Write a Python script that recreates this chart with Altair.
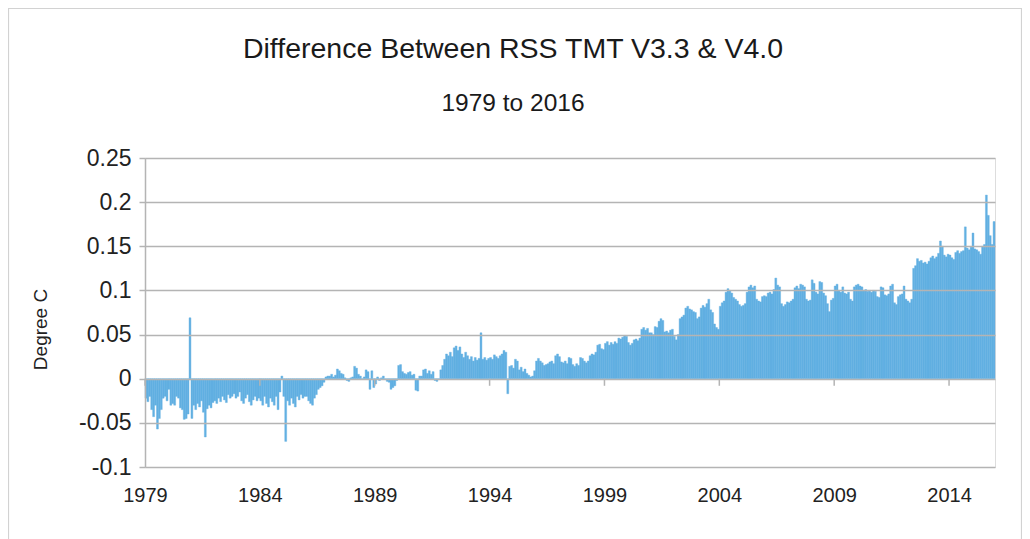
import altair as alt
import pandas as pd

# Monthly difference (degree C), RSS TMT V3.3 minus V4.0, Jan 1979 .. Dec 2015
v1979 = [-0.022, -0.026, -0.020, -0.035, -0.043, -0.030, -0.057, -0.045, -0.035, -0.022, -0.020, -0.025]
v1980 = [-0.012, -0.030, -0.028, -0.030, -0.020, -0.022, -0.033, -0.035, -0.046, -0.045, -0.040, 0.069]
v1981 = [-0.045, -0.030, -0.035, -0.028, -0.032, -0.025, -0.038, -0.066, -0.034, -0.030, -0.033, -0.027]
v1982 = [-0.025, -0.028, -0.022, -0.026, -0.020, -0.024, -0.027, -0.018, -0.022, -0.020, -0.017, -0.022]
v1983 = [-0.020, -0.015, -0.025, -0.028, -0.022, -0.018, -0.026, -0.030, -0.024, -0.020, -0.025, -0.022]
v1984 = [-0.025, -0.030, -0.020, -0.028, -0.032, -0.022, -0.026, -0.030, -0.020, -0.035, -0.015, 0.003]
v1985 = [-0.020, -0.071, -0.025, -0.030, -0.022, -0.028, -0.032, -0.020, -0.024, -0.018, -0.022, -0.020]
v1986 = [-0.020, -0.025, -0.028, -0.030, -0.022, -0.018, -0.012, -0.010, -0.008, -0.004, 0.002, 0.003]
v1987 = [0.003, 0.005, 0.002, 0.004, 0.011, 0.009, 0.006, 0.005, 0.001, -0.002, -0.003, 0.001]
v1988 = [0.002, 0.014, 0.012, 0.005, 0.003, 0.000, 0.002, 0.010, 0.008, -0.012, 0.009, -0.010]
v1989 = [-0.006, 0.002, -0.002, 0.001, 0.003, 0.000, -0.003, -0.004, -0.012, -0.010, -0.008, -0.002]
v1990 = [0.015, 0.016, 0.008, 0.006, 0.005, 0.007, 0.008, 0.004, 0.005, -0.013, -0.014, 0.003]
v1991 = [0.003, 0.010, 0.011, 0.006, 0.009, 0.005, 0.008, -0.002, -0.003, 0.000, 0.010, 0.015]
v1992 = [0.022, 0.028, 0.026, 0.030, 0.025, 0.035, 0.037, 0.032, 0.036, 0.028, 0.024, 0.030]
v1993 = [0.026, 0.022, 0.025, 0.020, 0.024, 0.021, 0.023, 0.052, 0.022, 0.024, 0.021, 0.023]
v1994 = [0.024, 0.022, 0.027, 0.025, 0.023, 0.026, 0.028, 0.032, 0.030, -0.017, 0.014, 0.015]
v1995 = [0.012, 0.022, 0.020, 0.010, 0.013, 0.008, 0.011, 0.006, 0.004, 0.002, 0.003, 0.009]
v1996 = [0.020, 0.023, 0.020, 0.018, 0.015, 0.016, 0.017, 0.019, 0.020, 0.017, 0.026, 0.028]
v1997 = [0.025, 0.019, 0.018, 0.020, 0.017, 0.024, 0.023, 0.016, 0.014, 0.017, 0.015, 0.024]
v1998 = [0.023, 0.020, 0.018, 0.020, 0.026, 0.028, 0.027, 0.030, 0.038, 0.039, 0.034, 0.033]
v1999 = [0.040, 0.042, 0.038, 0.041, 0.039, 0.042, 0.040, 0.046, 0.045, 0.047, 0.049, 0.048]
v2000 = [0.041, 0.038, 0.040, 0.044, 0.045, 0.043, 0.046, 0.056, 0.058, 0.055, 0.057, 0.052]
v2001 = [0.052, 0.050, 0.059, 0.058, 0.065, 0.068, 0.066, 0.053, 0.054, 0.052, 0.055, 0.056]
v2002 = [0.048, 0.044, 0.050, 0.068, 0.070, 0.072, 0.080, 0.082, 0.079, 0.078, 0.076, 0.075]
v2003 = [0.068, 0.070, 0.080, 0.083, 0.081, 0.085, 0.090, 0.078, 0.075, 0.062, 0.058, 0.056]
v2004 = [0.082, 0.086, 0.088, 0.098, 0.102, 0.100, 0.097, 0.092, 0.090, 0.088, 0.084, 0.082]
v2005 = [0.083, 0.085, 0.098, 0.104, 0.106, 0.103, 0.105, 0.090, 0.088, 0.087, 0.093, 0.094]
v2006 = [0.093, 0.097, 0.098, 0.096, 0.101, 0.114, 0.106, 0.104, 0.085, 0.082, 0.084, 0.087]
v2007 = [0.086, 0.088, 0.090, 0.103, 0.105, 0.102, 0.107, 0.106, 0.104, 0.090, 0.088, 0.089]
v2008 = [0.112, 0.108, 0.098, 0.096, 0.110, 0.109, 0.097, 0.094, 0.085, 0.076, 0.089, 0.091]
v2009 = [0.105, 0.107, 0.100, 0.098, 0.104, 0.097, 0.096, 0.098, 0.090, 0.088, 0.104, 0.106]
v2010 = [0.107, 0.105, 0.104, 0.100, 0.101, 0.099, 0.100, 0.098, 0.100, 0.099, 0.093, 0.092]
v2011 = [0.104, 0.103, 0.095, 0.094, 0.096, 0.105, 0.107, 0.086, 0.084, 0.093, 0.095, 0.096]
v2012 = [0.105, 0.090, 0.088, 0.086, 0.090, 0.125, 0.128, 0.136, 0.133, 0.134, 0.131, 0.132]
v2013 = [0.130, 0.133, 0.137, 0.139, 0.136, 0.138, 0.142, 0.156, 0.150, 0.140, 0.138, 0.141]
v2014 = [0.140, 0.137, 0.135, 0.143, 0.145, 0.142, 0.144, 0.145, 0.172, 0.148, 0.146, 0.149]
v2015 = [0.165, 0.147, 0.146, 0.144, 0.141, 0.150, 0.152, 0.208, 0.185, 0.162, 0.152, 0.178]

years = list(range(1979, 2016))
yearly = [v1979, v1980, v1981, v1982, v1983, v1984, v1985, v1986, v1987, v1988,
          v1989, v1990, v1991, v1992, v1993, v1994, v1995, v1996, v1997, v1998,
          v1999, v2000, v2001, v2002, v2003, v2004, v2005, v2006, v2007, v2008,
          v2009, v2010, v2011, v2012, v2013, v2014, v2015]

x_ticks = [1979, 1984, 1989, 1994, 1999, 2004, 2009, 2014]
y_ticks = [-0.1, -0.05, 0, 0.05, 0.1, 0.15, 0.2, 0.25]

rows = []
for yr, vals in zip(years, yearly):
    for mi, v in enumerate(vals):
        t = yr + mi / 12.0
        rows.append({"t": t, "t2": t + 1 / 12.0, "value": v})
df = pd.DataFrame(rows)
ticks_df = pd.DataFrame({"yr": x_ticks})

FONT = "Liberation Sans"
GRID = "#b4b4b4"
BAR = "#5aace1"

x_scale = alt.Scale(domain=[1979, 2016], nice=False, zero=False)
y_scale = alt.Scale(domain=[-0.1, 0.25], nice=False)

bars = alt.Chart(df).mark_bar(color=BAR, opacity=0.95, stroke=BAR,
                              strokeWidth=0.5, strokeOpacity=0.8).encode(
    x=alt.X("t:Q", scale=x_scale,
            axis=alt.Axis(values=x_ticks, format="d", title=None, grid=False,
                          ticks=False, domain=False, labelFontSize=20,
                          labelPadding=18, labelFont=FONT, labelColor="#222222",
                          labelFlush=False, labelOverlap=False)),
    x2="t2:Q",
    y=alt.Y("value:Q", scale=y_scale,
            axis=alt.Axis(values=y_ticks, labelExpr="'' + datum.value",
                          title="Degree C", titleFont=FONT, titleFontSize=19,
                          titleFontWeight="normal", titleColor="#222222",
                          titleX=-105, titleY=171, titleAlign="center",
                          titleBaseline="middle", titleAngle=-90,
                          labelFont=FONT, labelFontSize=23, labelColor="#222222",
                          labelPadding=8, labelFlush=False, labelOverlap=False,
                          tickSize=6, tickColor=GRID, tickWidth=1.5,
                          domainColor=GRID, domainWidth=1.5,
                          gridColor=GRID, gridWidth=1.5, zindex=1)),
    y2=alt.datum(0),
)

zero_ticks = alt.Chart(ticks_df).mark_rule(color=GRID, strokeWidth=1.5).encode(
    x=alt.X("yr:Q", scale=x_scale),
    y=alt.datum(0),
    y2=alt.datum(-0.008),
)

# thin light-grey frame round the whole chart (decoration)
frame = alt.Chart(pd.DataFrame({"k": [0]})).mark_rect(
    fill="transparent", stroke="#d2d2d2", strokeWidth=1.2
).encode(
    x=alt.value(-136.5), x2=alt.value(876.5),
    y=alt.value(-149.5), y2=alt.value(390),
)

chart = alt.layer(frame, bars, zero_ticks).properties(
    width=850,
    height=309,
    title=alt.TitleParams(
        text="Difference Between RSS TMT V3.3 & V4.0",
        subtitle="1979 to 2016",
        font=FONT, fontSize=28.5, fontWeight="normal", color="#1a1a1a",
        subtitleFont=FONT, subtitleFontSize=24.5, subtitleColor="#1a1a1a",
        subtitlePadding=29, anchor="middle", frame="group", dx=-57, offset=-108,
    ),
    autosize=alt.AutoSizeParams(type="none"),
    padding={"left": 137, "top": 150, "right": 27, "bottom": 72},
).configure_view(
    stroke=GRID, strokeWidth=1.5
).configure(background="white")

chart.save("out.html", embed_options={"renderer": "svg", "actions": False})
